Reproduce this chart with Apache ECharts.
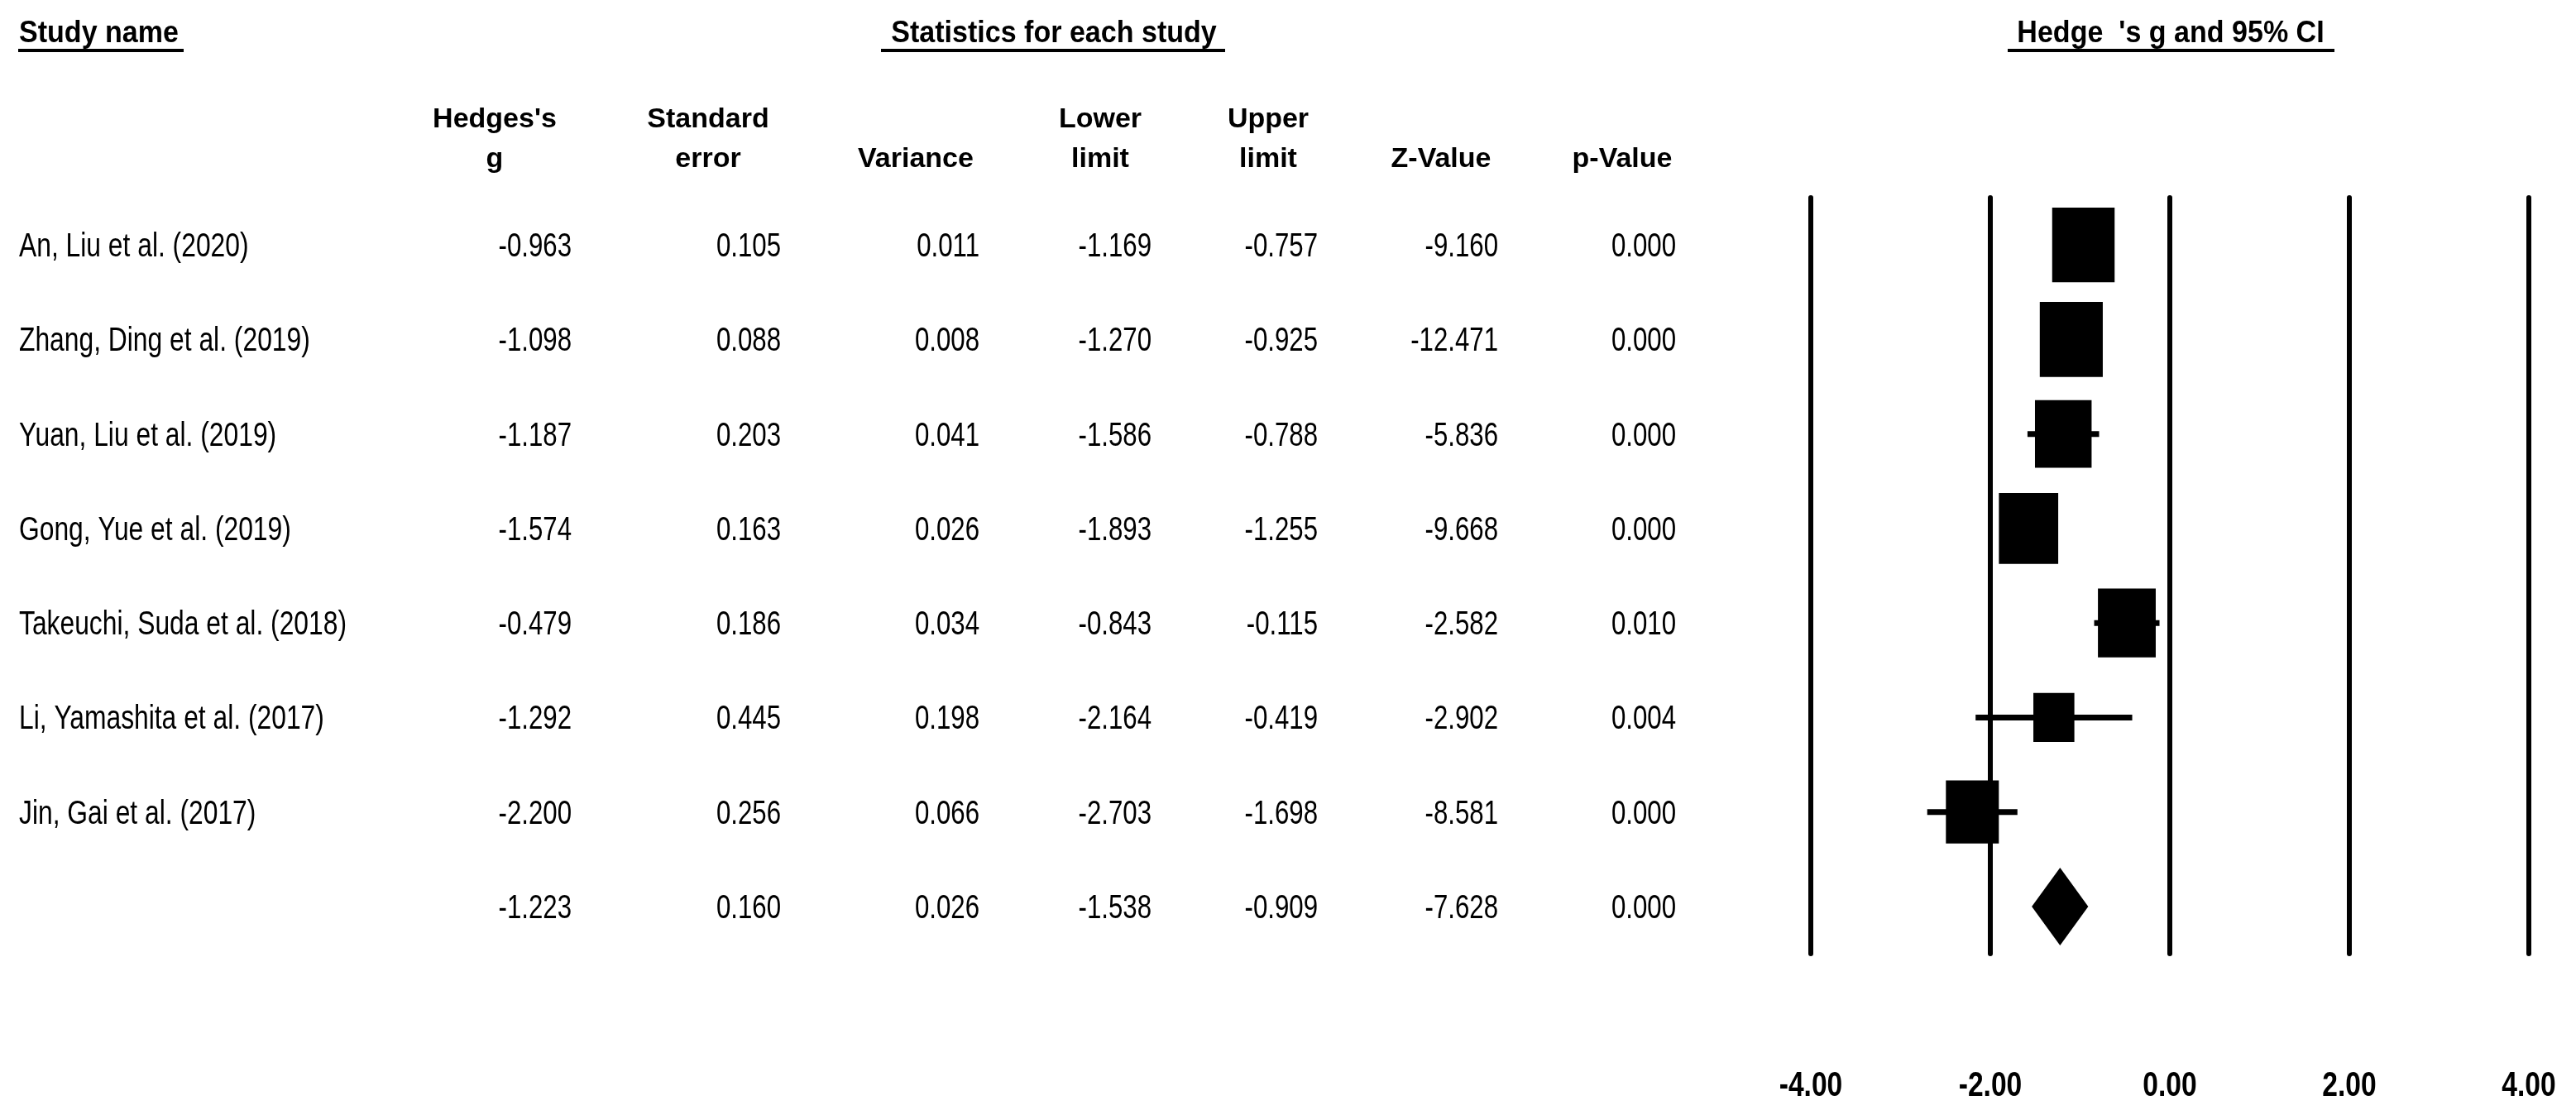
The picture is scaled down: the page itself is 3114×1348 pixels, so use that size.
<!DOCTYPE html>
<html>
<head>
<meta charset="utf-8">
<title>Hedges's g forest plot</title>
<script src="https://cdn.jsdelivr.net/npm/echarts@6/dist/echarts.min.js"></script>
<style>
  html, body { margin: 0; padding: 0; background: #fff; }
  #chart { width: 3114px; height: 1348px; }
</style>
</head>
<body>
<div id="chart"></div>
<script>
// rows top to bottom, last row is the pooled estimate (no name)
const studies = [
    'An, Liu et al. (2020)',
    'Zhang, Ding et al. (2019)',
    'Yuan, Liu et al. (2019)',
    'Gong, Yue et al. (2019)',
    'Takeuchi, Suda et al. (2018)',
    'Li, Yamashita et al. (2017)',
    'Jin, Gai et al. (2017)',
    ''
];
const hedgesG    = [-0.963, -1.098, -1.187, -1.574, -0.479, -1.292, -2.200, -1.223];
const stdError   = [0.105, 0.088, 0.203, 0.163, 0.186, 0.445, 0.256, 0.160];
const variance   = [0.011, 0.008, 0.041, 0.026, 0.034, 0.198, 0.066, 0.026];
const lowerLimit = [-1.169, -1.270, -1.586, -1.893, -0.843, -2.164, -2.703, -1.538];
const upperLimit = [-0.757, -0.925, -0.788, -1.255, -0.115, -0.419, -1.698, -0.909];
const zValue     = [-9.160, -12.471, -5.836, -9.668, -2.582, -2.902, -8.581, -7.628];
const pValue     = [0.000, 0.000, 0.000, 0.000, 0.010, 0.004, 0.000, 0.000];
// relative weight (%) of each study
const relWeight  = [17.4, 17.7, 14.3, 15.7, 14.9, 7.5, 12.5];

const tickValues = [-4, -2, 0, 2, 4];

const columnHeaders = [
    ["Hedges's", 'g'],
    ['Standard', 'error'],
    ['', 'Variance'],
    ['Lower', 'limit'],
    ['Upper', 'limit'],
    ['', 'Z-Value'],
    ['', 'p-Value']
];

// layout
const FONT = '"Liberation Sans", Arial, sans-serif';
const colRight = [691, 944, 1184, 1392, 1593, 1811, 2026];
const headerCenter = [598, 856, 1107, 1330, 1533, 1742, 1961];
const columns = [hedgesG, stdError, variance, lowerLimit, upperLimit, zValue, pValue];
const pooled = hedgesG.length - 1;

function txt(text, x, y, size, weight, align, scaleX) {
    return {
        type: 'text',
        x: x,
        y: y,
        scaleX: scaleX,
        silent: true,
        style: {
            text: text,
            fill: '#000',
            font: weight + ' ' + size + 'px ' + FONT,
            textAlign: align,
            align: align,
            textVerticalAlign: 'middle',
            verticalAlign: 'middle'
        }
    };
}

const chart = echarts.init(document.getElementById('chart'), null, { renderer: 'canvas' });

const graphics = [
    txt('Study name', 23, 41, 37, 'bold', 'left', 0.92),
    txt('Statistics for each study', 1274, 41, 37, 'bold', 'center', 0.92),
    txt("Hedge  's g and 95% CI", 2624, 41, 37, 'bold', 'center', 0.92),
    { type: 'rect', shape: { x: 22, y: 59, width: 200, height: 4 }, style: { fill: '#000' }, silent: true },
    { type: 'rect', shape: { x: 1065, y: 59, width: 416, height: 4 }, style: { fill: '#000' }, silent: true },
    { type: 'rect', shape: { x: 2427, y: 59, width: 395, height: 4 }, style: { fill: '#000' }, silent: true }
];
columnHeaders.forEach((lines, c) => {
    if (lines[0]) graphics.push(txt(lines[0], headerCenter[c], 145, 33, 'bold', 'center', 1.03));
    graphics.push(txt(lines[1], headerCenter[c], 193, 33, 'bold', 'center', 1.03));
});

const option = {
    backgroundColor: '#fff',
    animation: false,
    graphic: { elements: graphics },
    grid: { left: 2189, top: 239, width: 868, height: 914, containLabel: false },
    xAxis: {
        type: 'value',
        min: -4,
        max: 4,
        interval: 2,
        axisLine: { show: false },
        axisTick: { show: false },
        axisLabel: { show: false },
        splitLine: { show: true, lineStyle: { color: '#000', width: 6, cap: 'round' } }
    },
    yAxis: {
        type: 'category',
        inverse: true,
        data: studies.map((s, i) => String(i)),
        show: false
    },
    series: [
        {
            // table text
            type: 'custom',
            silent: true,
            data: studies.map((s, i) => [0, i]),
            encode: { x: 0, y: 1 },
            renderItem: (params, api) => {
                const i = params.dataIndex;
                const y = api.coord([0, i])[1] + 3;
                const children = [];
                if (studies[i]) children.push(txt(studies[i], 23, y, 40, 'normal', 'left', 0.795));
                columns.forEach((col, c) => {
                    children.push(txt(col[i].toFixed(3), colRight[c], y, 40, 'normal', 'right', 0.78));
                });
                return { type: 'group', children: children };
            }
        },
        {
            // CI whiskers and weighted boxes
            type: 'custom',
            silent: true,
            data: relWeight.map((w, i) => [hedgesG[i], i, lowerLimit[i], upperLimit[i], w]),
            encode: { x: [0, 2, 3], y: 1 },
            renderItem: (params, api) => {
                const row = api.value(1);
                const c = api.coord([api.value(0), row]);
                const lo = api.coord([api.value(2), row]);
                const hi = api.coord([api.value(3), row]);
                const s = Math.sqrt(api.value(4));
                const w = s * 18.1;
                const h = s * 21.6;
                return {
                    type: 'group',
                    children: [
                        { type: 'line', shape: { x1: lo[0], y1: lo[1], x2: hi[0], y2: hi[1] },
                          style: { stroke: '#000', lineWidth: 7, lineCap: 'butt' } },
                        { type: 'rect', shape: { x: c[0] - w / 2, y: c[1] - h / 2, width: w, height: h },
                          style: { fill: '#000' } }
                    ]
                };
            }
        },
        {
            // pooled diamond
            type: 'custom',
            silent: true,
            data: [[hedgesG[pooled], pooled, lowerLimit[pooled], upperLimit[pooled]]],
            encode: { x: [0, 2, 3], y: 1 },
            renderItem: (params, api) => {
                const row = api.value(1);
                const c = api.coord([api.value(0), row]);
                const lo = api.coord([api.value(2), row]);
                const hi = api.coord([api.value(3), row]);
                const half = 47;
                return {
                    type: 'polygon',
                    shape: { points: [[lo[0], lo[1]], [c[0], c[1] - half], [hi[0], hi[1]], [c[0], c[1] + half]] },
                    style: { fill: '#000' }
                };
            }
        },
        {
            // x tick labels
            type: 'custom',
            silent: true,
            data: tickValues.map(v => [v, pooled]),
            encode: { x: 0, y: 1 },
            renderItem: (params, api) => {
                const x = api.coord([api.value(0), api.value(1)])[0];
                const y = params.coordSys.y + params.coordSys.height + 160;
                return txt(api.value(0).toFixed(2), x, y, 42, 'bold', 'center', 0.8);
            }
        }
    ]
};

chart.setOption(option);
</script>
</body>
</html>
